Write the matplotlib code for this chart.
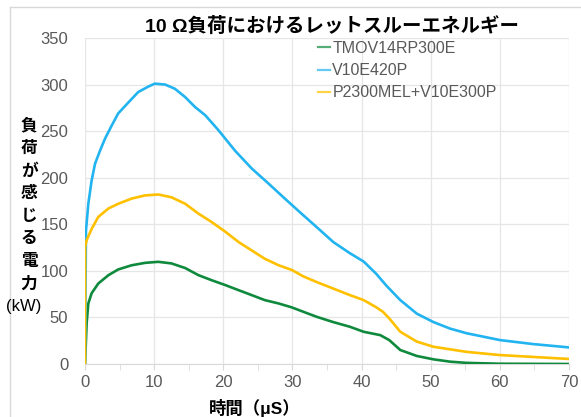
import matplotlib
matplotlib.use("Agg")
import matplotlib.pyplot as plt
from matplotlib.lines import Line2D
from matplotlib.ticker import MultipleLocator

plt.rcParams['font.family'] = ['Liberation Sans', 'Noto Sans CJK JP', 'DejaVu Sans']

# ---- data ----
title = "10 Ω負荷におけるレットスルーエネルギー"
xlabel = "時間（μS）"
ylabel_chars = ["負", "荷", "が", "感", "じ", "る", "電", "力"]
ylabel_unit = "(kW)"

labels = ["TMOV14RP300E", "V10E420P", "P2300MEL+V10E300P"]

t_green = [0, 0.24, 0.48, 0.96, 1.93, 3.4, 4.8, 6.75, 8.7, 10.6, 12.5, 14.5, 16.4,
           18.3, 20.3, 22.2, 24.1, 26.0, 28.0, 29.9, 31.6, 33.5, 35.9, 38.3, 40.3,
           42.7, 44.0, 45.6, 48.0, 50.4, 52.8, 55.2, 60.0, 70.0]
kw_green = [0, 44, 65, 76, 86.5, 95.4, 101.5, 106, 108.6, 109.7, 108, 103, 95.4,
            90, 84.7, 79.3, 74, 68.6, 65, 60.8, 56, 50.7, 45, 40, 34.6,
            31, 25.7, 15, 8.6, 5, 2.5, 1.2, 0.3, 0]

t_blue = [0, 0.14, 0.48, 0.96, 1.45, 2.17, 2.9, 3.86, 4.8, 6.3, 7.7, 9.2, 10.1,
          11.6, 13.0, 14.5, 15.9, 17.4, 19.3, 21.7, 24.1, 26.5, 28.9, 31.3, 33.5,
          35.9, 38.3, 40.3, 42.1, 43.6, 45.6, 48.0, 50.4, 52.8, 55.2, 60.0, 64.8,
          70.0]
kw_blue = [0, 143, 172, 197, 215, 229, 242, 256, 269, 281, 292, 298, 301,
           300, 295.5, 286.5, 276, 267, 251, 229, 210, 194, 177.6, 161.5, 147,
           131, 119, 110, 97, 84, 68.6, 54, 45, 38, 33, 25.7, 21.4,
           17.8]

t_yellow = [0, 0.02, 0.24, 0.96, 1.93, 3.4, 4.8, 6.75, 8.7, 10.6, 12.5, 14.5, 16.4,
            18.3, 20.3, 22.2, 24.1, 26.0, 28.0, 29.9, 31.6, 33.5, 35.9, 38.3, 40.3,
            42.1, 43.1, 44.0, 45.6, 48.0, 50.4, 55.2, 60.0, 70.0]
kw_yellow = [0, 126, 133, 145, 158, 167, 172, 177.6, 181, 182, 179, 172, 161.5,
             152.5, 142, 131, 122, 113, 106, 101, 94, 88, 81, 74, 68.6,
             61, 56, 49, 34.6, 24, 18.5, 13, 9.6, 5.4]

xticks = [0, 10, 20, 30, 40, 50, 60, 70]
yticks = [0, 50, 100, 150, 200, 250, 300, 350]

# ---- figure ----
W, H = 581, 417
fig = plt.figure(figsize=(W / 100, H / 100), dpi=100)
ax = fig.add_axes([85 / W, 1 - 364 / H, 484 / W, 326 / H])

c_green = '#0F8A3D'
c_blue = '#22B4F0'
c_yellow = '#FFC000'

ax.plot(t_green, kw_green, color=c_green, lw=1.9, label=labels[0], zorder=3)
ax.plot(t_blue, kw_blue, color=c_blue, lw=1.9, label=labels[1], zorder=3)
ax.plot(t_yellow, kw_yellow, color=c_yellow, lw=1.9, label=labels[2], zorder=3)

ax.set_xlim(0, 70)
ax.set_ylim(0, 350)
ax.set_xticks(xticks)
ax.set_yticks(yticks)
ax.xaxis.set_minor_locator(MultipleLocator(5))
ax.grid(True, which='major', color='#E6E6E6', lw=0.9, zorder=0)
for s in ['top', 'right', 'left']:
    ax.spines[s].set_visible(False)
ax.spines['bottom'].set_color('#D9D9D9')
ax.tick_params(axis='x', which='both', length=4, color='#D9D9D9', labelsize=12,
               labelcolor='#595959', pad=4)
ax.tick_params(axis='y', length=0, labelsize=12, labelcolor='#595959', pad=12)

leg = ax.legend(loc='upper left', bbox_to_anchor=(318 / W, 1 - 41 / H),
                bbox_transform=fig.transFigure, frameon=False, fontsize=11.5,
                handlelength=0.75, handletextpad=0.15, labelspacing=0.45,
                borderpad=0, borderaxespad=0)
for txt in leg.get_texts():
    txt.set_color('#595959')
for ln in leg.get_lines():
    ln.set_linewidth(1.6)
    ln.set_alpha(0.7)

# title with white background
fig.text(332 / W, 1 - 26 / H, title, ha='center', va='center', fontsize=14,
         fontweight='bold', color='black',
         bbox=dict(facecolor='white', edgecolor='none', pad=1.5), zorder=5)

# stacked vertical y label
y0, dy = 126, 22.6
for i, ch in enumerate(ylabel_chars):
    fig.text(29 / W, 1 - (y0 + i * dy) / H, ch, ha='center', va='center',
             fontsize=12, fontweight='bold', color='black')
fig.text(24 / W, 1 - 307 / H, ylabel_unit, ha='center', va='center',
         fontsize=12, color='black')

fig.text(255 / W, 1 - 408 / H, xlabel, ha='center', va='center', fontsize=12.5,
         fontweight='bold', color='black')

# outer frame (left and top only)
fig.add_artist(Line2D([10 / W, 10 / W], [0, 1 - 7 / H], color='#D9D9D9', lw=1,
                      transform=fig.transFigure))
fig.add_artist(Line2D([10 / W, 1], [1 - 7 / H, 1 - 7 / H], color='#D9D9D9', lw=1,
                      transform=fig.transFigure))

fig.savefig('out.png', dpi=100)
